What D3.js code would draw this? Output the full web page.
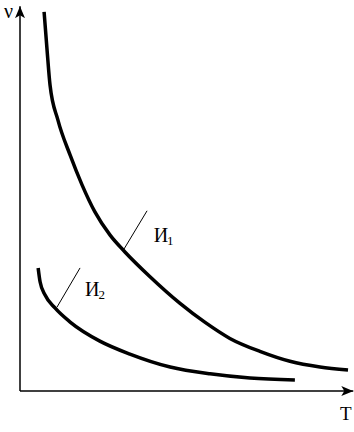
<!DOCTYPE html>
<html>
<head>
<meta charset="utf-8">
<script src="https://cdn.jsdelivr.net/npm/d3@7"></script>
<style>
  body { margin: 0; background: #fff; }
  svg { display: block; }
</style>
</head>
<body>
<script>
// chart size
var W = 354;
var H = 432;

// curve И1 (T, nu)
var curve1T  = [0.73, 0.82, 0.91, 1.15, 1.52, 1.88, 2.27, 2.73, 3.18, 3.94, 4.85, 5.61, 6.36, 7.27, 8.18, 9.09, 9.94];
var curve1Nu = [9.95, 8.95, 8.03, 7.11, 6.19, 5.41, 4.70, 4.09, 3.65, 3.00, 2.30, 1.80, 1.38, 1.04, 0.78, 0.63, 0.55];

// curve И2
var curve2T  = [0.55, 0.61, 0.76, 1.06, 1.52, 2.42, 3.33, 4.55, 5.76, 6.97, 8.33];
var curve2Nu = [3.23, 2.86, 2.52, 2.18, 1.81, 1.31, 0.97, 0.63, 0.45, 0.34, 0.29];

var labels = ["И", "И"];
var subs = ["1", "2"];

var svg = d3.select("body").append("svg")
  .attr("width", W)
  .attr("height", H);

var x = d3.scaleLinear().domain([0, 10]).range([20, 350]);
var y = d3.scaleLinear().domain([0, 10]).range([391, 10]);

// arrowhead
svg.append("defs").append("marker")
  .attr("id", "arr")
  .attr("viewBox", "0 0 12 10")
  .attr("refX", 12).attr("refY", 5)
  .attr("markerWidth", 12).attr("markerHeight", 10)
  .attr("markerUnits", "userSpaceOnUse")
  .attr("orient", "auto")
  .append("path")
  .attr("d", "M0,0 L12,5 L0,10 L3,5 Z")
  .attr("fill", "#000");

// axes
svg.append("line")
  .attr("x1", x(0)).attr("y1", y(0))
  .attr("x2", x(0)).attr("y2", y(10.1))
  .attr("stroke", "#000").attr("stroke-width", 1.5)
  .attr("marker-end", "url(#arr)");
svg.append("line")
  .attr("x1", x(0)).attr("y1", y(0))
  .attr("x2", x(10.1)).attr("y2", y(0))
  .attr("stroke", "#000").attr("stroke-width", 1.5)
  .attr("marker-end", "url(#arr)");

svg.append("text")
  .attr("x", 4).attr("y", 18)
  .attr("font-family", "Liberation Serif, serif")
  .attr("font-size", 20)
  .text("ν");
svg.append("text")
  .attr("x", 340).attr("y", 420)
  .attr("font-family", "Liberation Serif, serif")
  .attr("font-size", 19)
  .text("T");

// curves
var line = d3.line()
  .x(function(d) { return x(d[0]); })
  .y(function(d) { return y(d[1]); })
  .curve(d3.curveMonotoneX);

var c1 = d3.zip(curve1T, curve1Nu);
var c2 = d3.zip(curve2T, curve2Nu);

[c1, c2].forEach(function(c) {
  svg.append("path")
    .attr("d", line(c))
    .attr("fill", "none")
    .attr("stroke", "#000")
    .attr("stroke-width", 3.5);
});

// leader lines and labels
var leaders = [[3.12, 3.68, 3.85, 4.73], [1.12, 2.20, 1.82, 3.23]];
var labelPos = [[4.05, 3.92], [1.97, 2.49]];

leaders.forEach(function(l) {
  svg.append("line")
    .attr("x1", x(l[0])).attr("y1", y(l[1]))
    .attr("x2", x(l[2])).attr("y2", y(l[3]))
    .attr("stroke", "#000").attr("stroke-width", 1);
});

labelPos.forEach(function(p, i) {
  var t = svg.append("text")
    .attr("x", x(p[0])).attr("y", y(p[1]))
    .attr("font-family", "Liberation Serif, serif")
    .attr("font-size", 20)
    .text(labels[i]);
  t.append("tspan")
    .attr("dy", 3)
    .attr("dx", -1)
    .attr("font-size", 13)
    .text(subs[i]);
});
</script>
</body>
</html>
